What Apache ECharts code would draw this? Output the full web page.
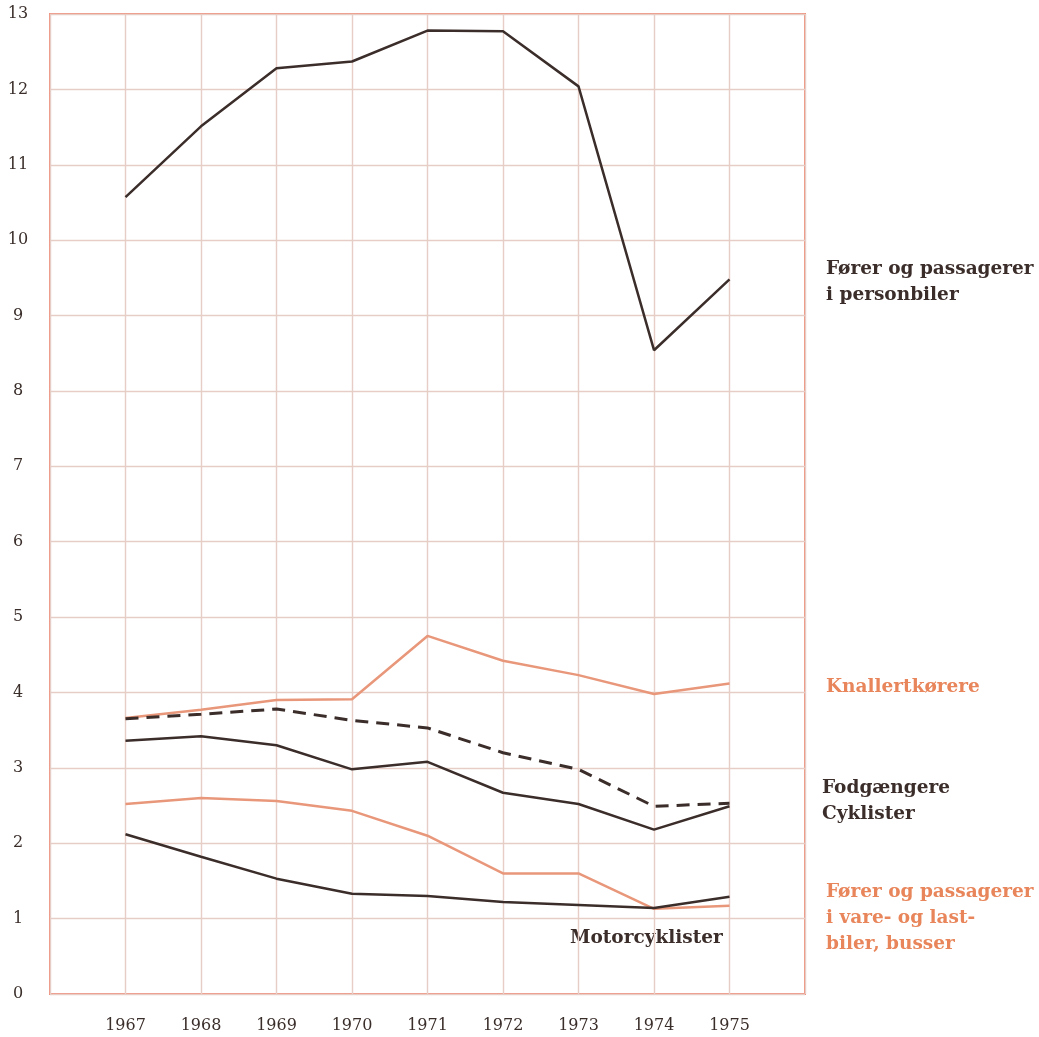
<!DOCTYPE html>
<html>
<head>
<meta charset="utf-8">
<script src="https://cdn.jsdelivr.net/npm/echarts@6/dist/echarts.min.js"></script>
<style>
  html, body { margin: 0; padding: 0; background: #fff; }
  #chart { width: 1039px; height: 1037px; }
</style>
</head>
<body>
<div id="chart"></div>
<script>
  // årstal og værdier
  const years = [1967, 1968, 1969, 1970, 1971, 1972, 1973, 1974, 1975]
  const personbiler = [10.57, 11.51, 12.28, 12.37, 12.78, 12.77, 12.04, 8.54, 9.48]
  const knallert = [3.66, 3.77, 3.90, 3.91, 4.75, 4.42, 4.23, 3.98, 4.12]
  const cyklister = [3.65, 3.71, 3.78, 3.63, 3.53, 3.20, 2.98, 2.49, 2.53]
  const fodgaengere = [3.36, 3.42, 3.30, 2.98, 3.08, 2.67, 2.52, 2.18, 2.49]
  const varebiler = [2.52, 2.60, 2.56, 2.43, 2.10, 1.60, 1.60, 1.13, 1.17]
  const motorcykler = [2.12, 1.82, 1.53, 1.33, 1.30, 1.22, 1.18, 1.14, 1.29]

  const dark = '#3b2d2a'
  const orange = '#e9977a'
  const labelOrange = '#e8855a'
  const serif = '"DejaVu Serif", "Liberation Serif", serif'

  const pairs = arr => years.map((y, i) => [y, arr[i]])

  function lineSeries (name, data, color, dashed) {
    return {
      name: name,
      type: 'line',
      data: pairs(data),
      symbol: 'none',
      lineStyle: {
        color: color,
        width: dashed ? 3 : 2.5,
        type: dashed ? [13, 8] : 'solid'
      },
      z: dashed ? 3 : 2
    }
  }

  function label (x, y, text, color) {
    return {
      type: 'text',
      left: x,
      top: y,
      style: {
        text: text,
        fill: color,
        font: 'bold 18.5px ' + serif,
        lineHeight: 26
      }
    }
  }

  const myChart = echarts.init(document.getElementById('chart'))
  myChart.setOption({
    animation: false,
    grid: {
      left: 50,
      right: 234,
      top: 14,
      bottom: 43,
      show: true,
      borderColor: '#f0917f',
      borderWidth: 2
    },
    xAxis: {
      type: 'value',
      min: 1966,
      max: 1976,
      interval: 1,
      axisLine: { show: false },
      axisTick: { show: false },
      axisLabel: {
        margin: 24,
        color: '#3a2e2a',
        fontFamily: serif,
        fontSize: 16,
        formatter: v => (v >= 1967 && v <= 1975) ? String(v) : ''
      },
      splitLine: { lineStyle: { color: '#e6cdc5', width: 1.4 } }
    },
    yAxis: {
      type: 'value',
      min: 0,
      max: 13,
      interval: 1,
      axisLine: { show: false },
      axisTick: { show: false },
      axisLabel: {
        margin: 32,
        align: 'center',
        color: '#3a2e2a',
        fontFamily: serif,
        fontSize: 16
      },
      splitLine: { lineStyle: { color: '#e6cdc5', width: 1.4 } }
    },
    series: [
      lineSeries('Fører og passagerer i personbiler', personbiler, dark, false),
      lineSeries('Knallertkørere', knallert, orange, false),
      lineSeries('Cyklister', cyklister, dark, true),
      lineSeries('Fodgængere', fodgaengere, dark, false),
      lineSeries('Fører og passagerer i vare- og lastbiler, busser', varebiler, orange, false),
      lineSeries('Motorcyklister', motorcykler, dark, false)
    ],
    graphic: [
      label(826, 256, 'Fører og passagerer\ni personbiler', dark),
      label(826, 674, 'Knallertkørere', labelOrange),
      label(822, 775, 'Fodgængere\nCyklister', dark),
      label(826, 879, 'Fører og passagerer\ni vare- og last-\nbiler, busser', labelOrange),
      label(570, 925, 'Motorcyklister', dark)
    ]
  })
</script>
</body>
</html>
